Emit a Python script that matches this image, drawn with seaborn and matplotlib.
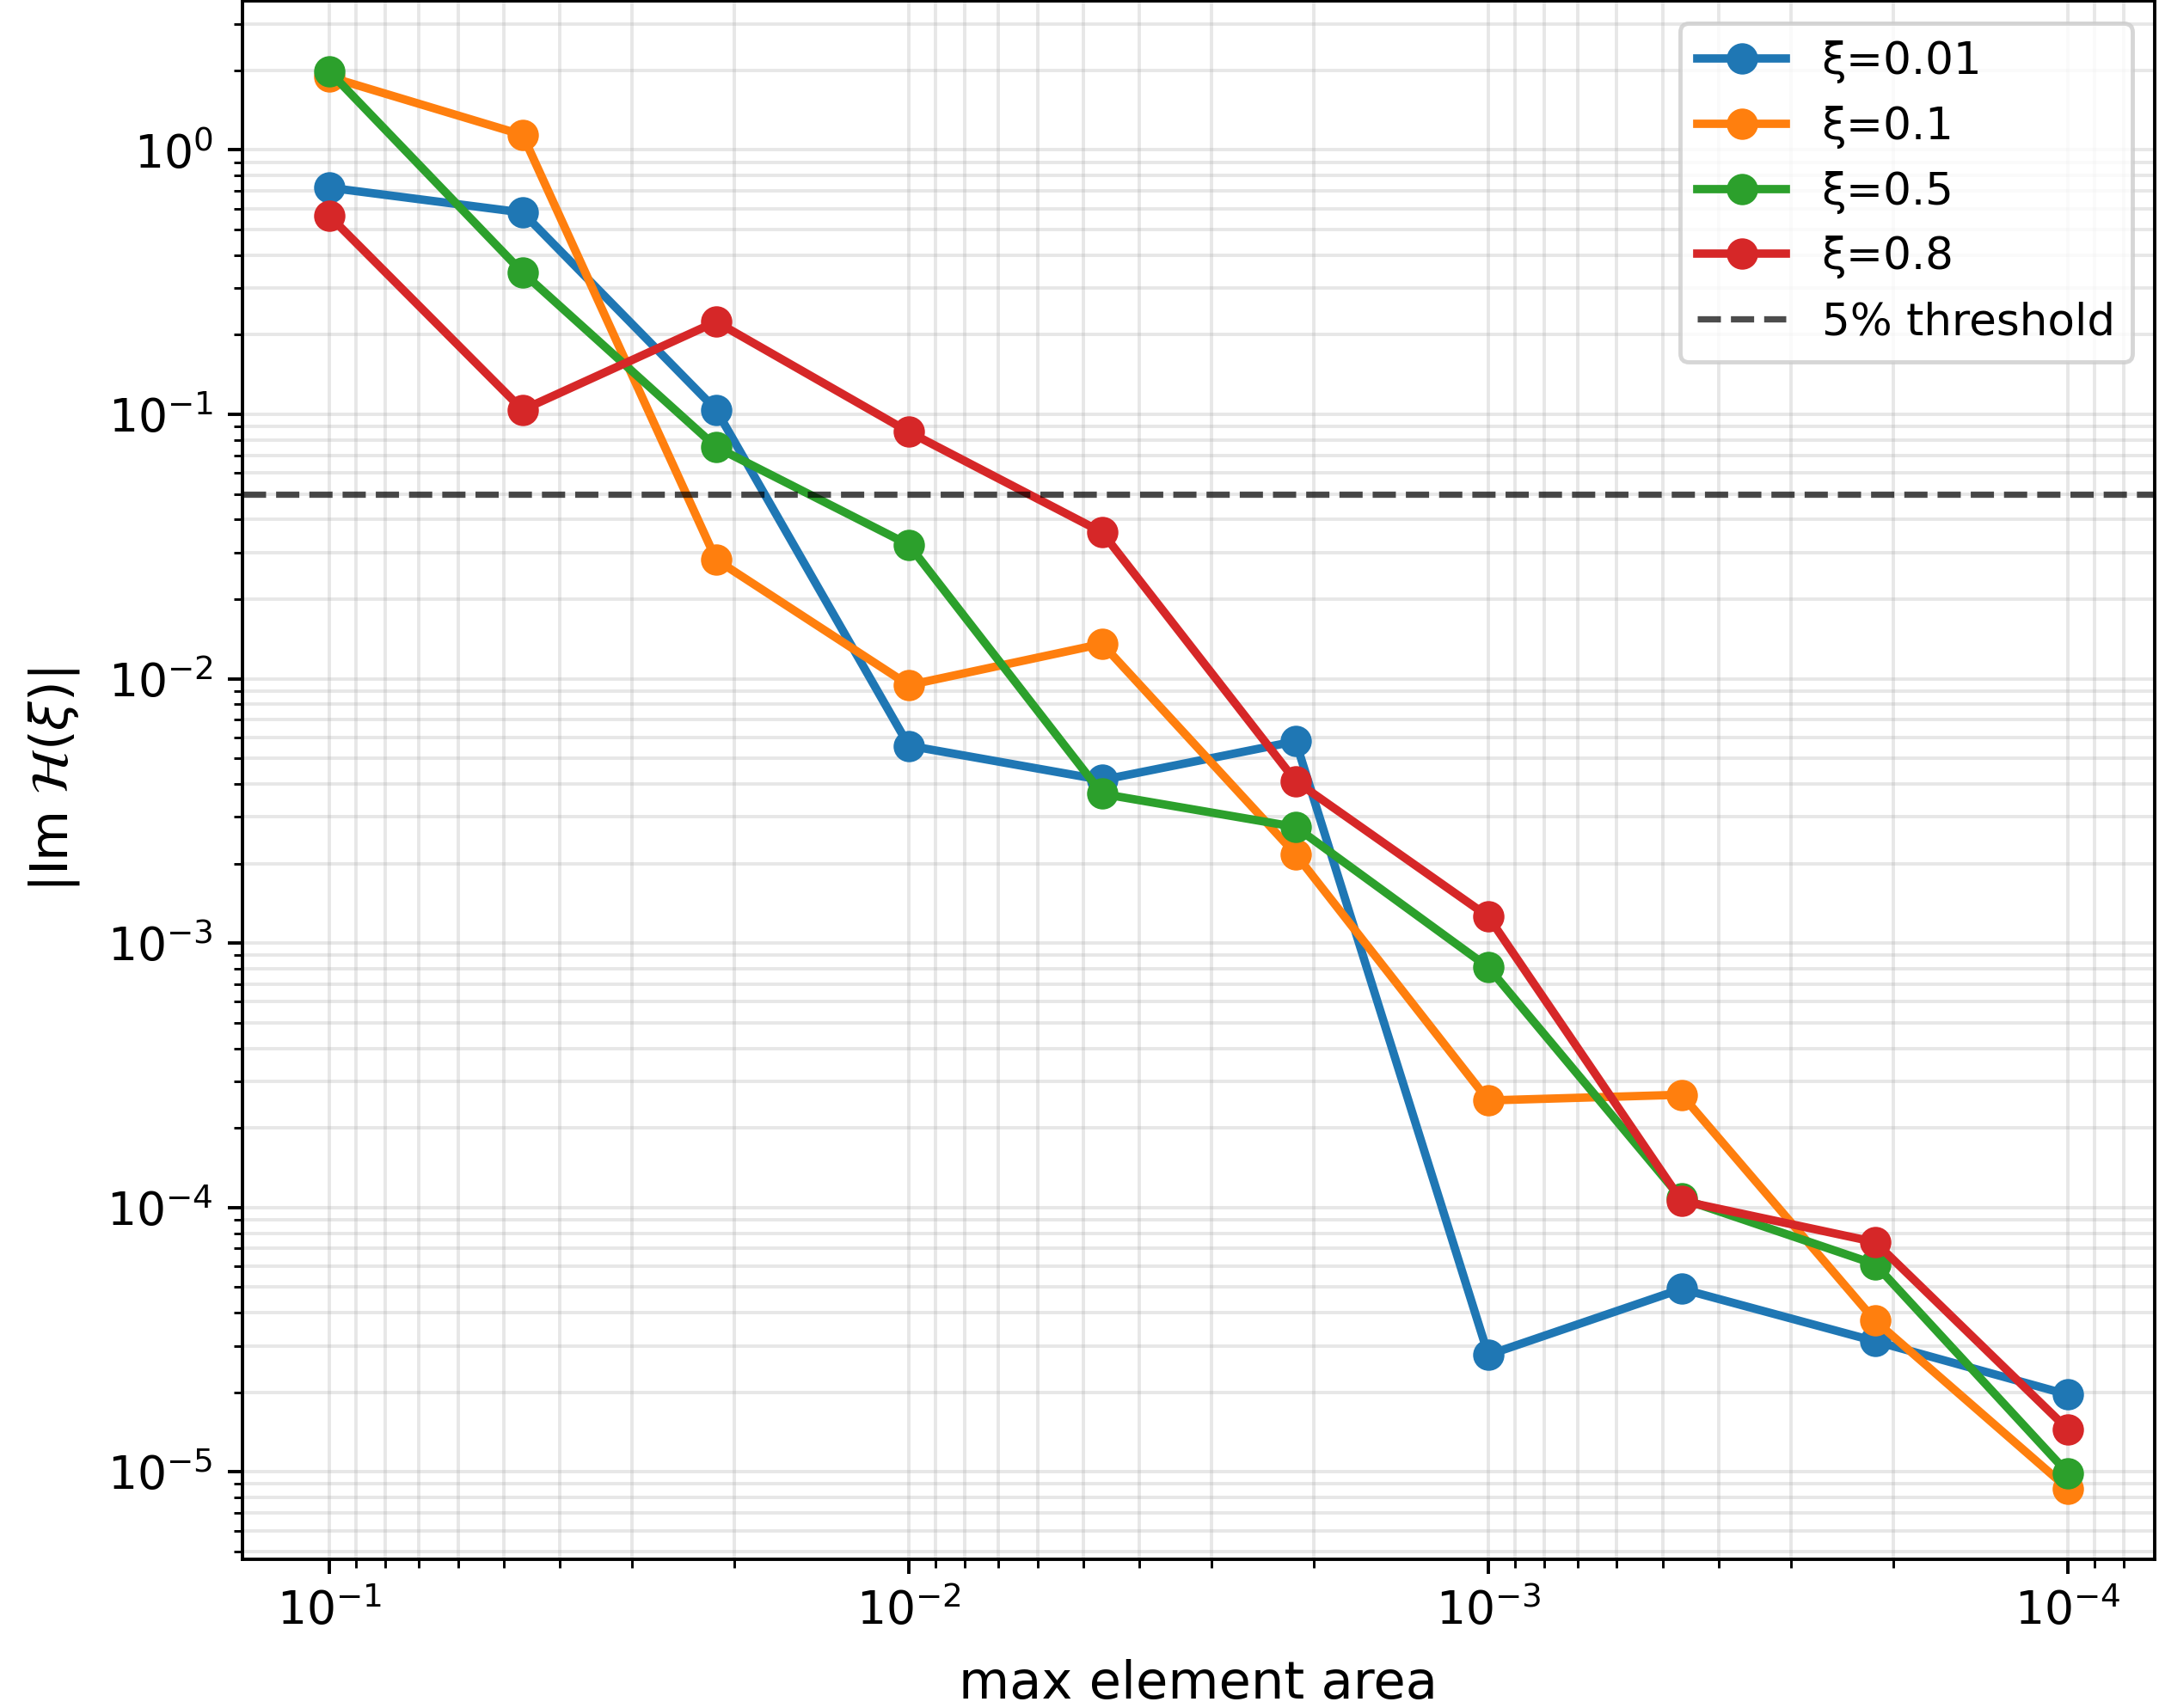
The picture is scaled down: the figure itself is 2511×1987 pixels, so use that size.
import numpy as np
import pandas as pd
import matplotlib
matplotlib.use("Agg")
import matplotlib.pyplot as plt
import seaborn as sns

# ---- data ----
areas = [1e-1, 4.64e-2, 2.15e-2, 1e-2, 4.64e-3, 2.15e-3, 1e-3, 4.64e-4, 2.15e-4, 1e-4]
xi_labels = ["ξ=0.01", "ξ=0.1", "ξ=0.5", "ξ=0.8"]
vals_001 = [0.72, 0.58, 0.104, 0.00558, 0.00414, 0.0058, 2.77e-5, 4.92e-5, 3.12e-5, 1.96e-5]
vals_01 = [1.89, 1.14, 0.0282, 0.00946, 0.01355, 0.00217, 2.54e-4, 2.67e-4, 3.73e-5, 8.66e-6]
vals_05 = [1.98, 0.344, 0.0752, 0.0321, 0.00367, 0.00275, 8.1e-4, 1.08e-4, 6.1e-5, 9.9e-6]
vals_08 = [0.563, 0.104, 0.224, 0.0858, 0.0358, 0.0041, 1.26e-3, 1.06e-4, 7.4e-5, 1.45e-5]
threshold = 0.05
threshold_label = "5% threshold"
colors = ["#1f77b4", "#ff7f0e", "#2ca02c", "#d62728"]

series = [vals_001, vals_01, vals_05, vals_08]
df = pd.DataFrame({
    "area": np.tile(areas, len(series)),
    "value": np.concatenate(series),
    "xi": np.repeat(xi_labels, len(areas)),
})

plt.rcParams["font.family"] = ["DejaVu Sans"]
plt.rcParams["font.size"] = 10

fig = plt.figure(figsize=(2511 / 350, 1987 / 350), dpi=350)
ax = fig.add_axes([0.1123, 0.0871, 0.8857, 0.9125])

sns.lineplot(data=df, x="area", y="value", hue="xi", hue_order=xi_labels,
             palette=colors, marker="o", markersize=7.5, markeredgewidth=0,
             linewidth=2, legend=False, ax=ax)
hl = ax.axhline(threshold, color="k", linestyle="--", linewidth=1.5, alpha=0.7)

ax.set_xscale("log")
ax.set_yscale("log")
ax.invert_xaxis()
ax.grid(True, which="both", alpha=0.3)
ax.tick_params(axis="both", which="major", labelsize=11)
ax.set_xlabel("max element area", fontsize=12.5, labelpad=6)
ax.set_ylabel(r"|Im $\mathcal{H}(\xi)$|", fontsize=12.5, labelpad=6)

handles = list(ax.lines[:4]) + [hl]
ax.legend(handles=handles, labels=xi_labels + [threshold_label], loc="upper right",
          fontsize=10.6)

fig.savefig("out.png", dpi=350)
